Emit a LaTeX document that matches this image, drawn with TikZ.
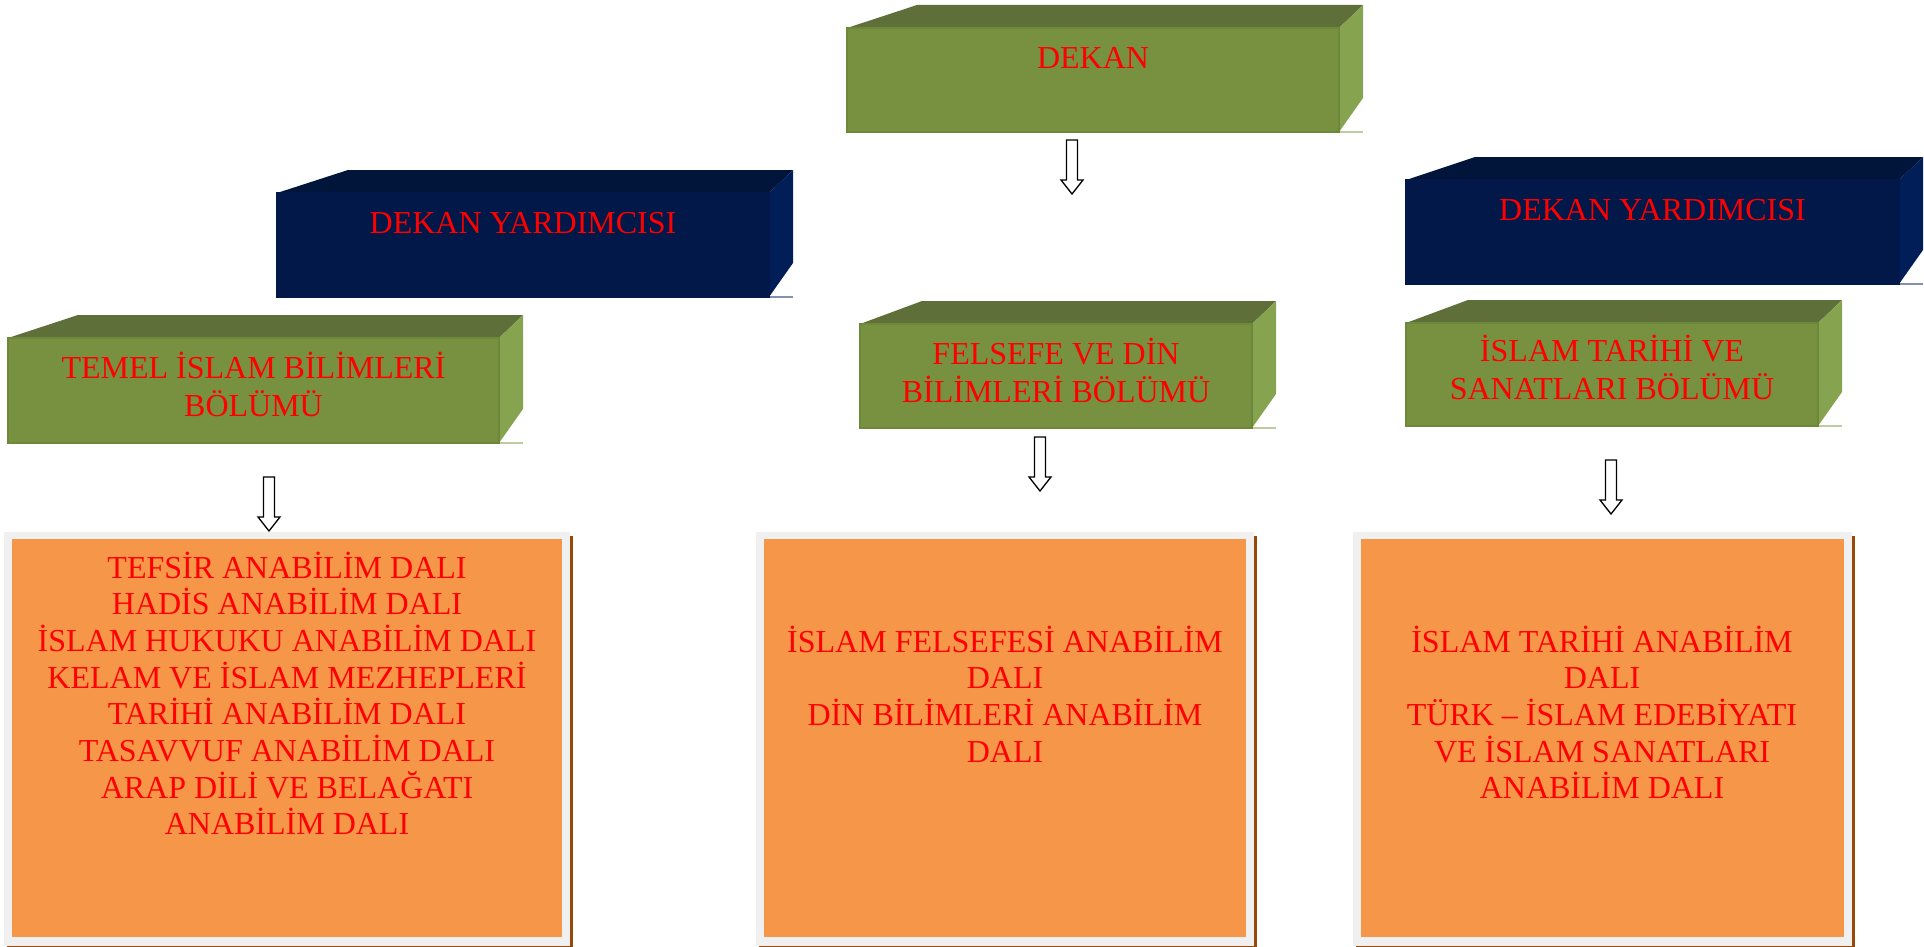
\documentclass[tikz,border=0pt]{standalone}
\usepackage{fontspec}
\setmainfont{Liberation Serif}
\usetikzlibrary{calc,fit}
\definecolor{gFront}{RGB}{119,145,64}
\definecolor{gTop}{RGB}{94,111,57}
\definecolor{gSide}{RGB}{134,164,80}
\definecolor{gEdge}{RGB}{108,136,56}
\definecolor{gLine}{RGB}{190,205,160}
\definecolor{bFront}{RGB}{2,24,72}
\definecolor{bTop}{RGB}{1,20,58}
\definecolor{bSide}{RGB}{2,30,88}
\definecolor{bEdge}{RGB}{2,24,72}
\definecolor{bLine}{RGB}{130,145,175}
\definecolor{oFill}{RGB}{246,150,72}
\definecolor{oFrame}{RGB}{240,240,240}
\definecolor{oShadow}{RGB}{152,72,7}
\definecolor{txtRed}{RGB}{255,0,0}
\newcommand\mlines[1]{\vtop{\lineskiplimit=-1000pt\relax\halign{\hfil##\hfil\cr#1\crcr}}}
\newcommand\cubebox[7]{%
  \fill[#7Top] (#2,#3) -- ({#2+#6},{#3-23}) -- ({#4+24},{#3-23}) -- (#4,#3) -- cycle;
  \fill[#7Side] (#4,#3) -- ({#4+24},{#3-23}) -- ({#4+24},{#5-34}) -- (#4,#5) -- cycle;
  \draw[#7Line, line width=1.2pt] (#4,#5) -- ({#4+24},#5);
  \node[fit={(#2,#3)(#4,#5)}, inner sep=0pt, fill=#7Front, draw=#7Edge, line width=1.2pt] (#1) {};
}
\newcommand\orangebox[5]{%
  \fill[oShadow] ({#2+3},{#3+4}) rectangle ({#4+3},{#5+3});
  \node[fit={(#2,#3)(#4,#5)}, inner sep=0pt, fill=oFrame] (#1) {};
  \fill[oFill] ({#2+7.5},{#3+7}) rectangle ({#4-8},{#5-9});
}
\tikzset{
  boxlbl/.style={text=txtRed, inner sep=0pt, anchor=base, font=\fontsize{32}{38.5}\selectfont},
  dallbl/.style={text=txtRed, inner sep=0pt, anchor=base, font=\fontsize{32}{36.7}\selectfont},
  blockarr/.style={draw=black, fill=white, line width=1.3pt, line join=miter},
}
\newcommand\blockdown[1]{%
  \draw[blockarr] (#1) ++(-5.5,0) -- ++(11,0) -- ++(0,40) -- ++(5.5,0) -- ++(-11,14) -- ++(-11,-14) -- ++(5.5,0) -- cycle;
}
\begin{document}
\begin{tikzpicture}[x=1pt,y=-1pt]
\useasboundingbox (0,0) rectangle (1924,947);
\fill[white] (0,0) rectangle (1924,947);

% 3D boxes
\cubebox{dekan}{847}{28}{1339}{132}{70}{g}
\cubebox{yrdL}{277}{193}{769}{297}{71}{b}
\cubebox{temel}{8}{338}{499}{443}{70}{g}
\cubebox{felsefe}{860}{324}{1252}{428}{62}{g}
\cubebox{yrdR}{1406}{180}{1899}{284}{69}{b}
\cubebox{tarih}{1406}{323}{1818}{426}{62}{g}

\node[boxlbl] (tDekan) at ($(dekan.north)+(0,41)$) {DEKAN};
\node[boxlbl] (tYrdL) at ($(yrdL.north)+(0,41)$) {DEKAN YARDIMCISI};
\node[boxlbl] (tYrdR) at ($(yrdR.north)+(0,41)$) {DEKAN YARDIMCISI};
\node[boxlbl] (tTemel) at ($(temel.north)+(0,41)$) {\mlines{TEMEL İSLAM BİLİMLERİ\cr BÖLÜMÜ}};
\node[boxlbl] (tFelsefe) at ($(felsefe.north)+(0,41)$) {\mlines{FELSEFE VE DİN\cr BİLİMLERİ BÖLÜMÜ}};
\node[boxlbl] (tTarih) at ($(tarih.north)+(0,39)$) {\mlines{İSLAM TARİHİ VE\cr SANATLARI BÖLÜMÜ}};

% orange boxes
\orangebox{dalL}{4}{532}{570}{946}
\orangebox{dalM}{756}{532}{1254}{946}
\orangebox{dalR}{1353}{532}{1852}{946}

\node[dallbl] (tDalL) at (287,578) {\mlines{TEFSİR ANABİLİM DALI\cr HADİS ANABİLİM DALI\cr İSLAM HUKUKU ANABİLİM DALI\cr KELAM VE İSLAM MEZHEPLERİ\cr TARİHİ ANABİLİM DALI\cr TASAVVUF ANABİLİM DALI\cr ARAP DİLİ VE BELAĞATI\cr ANABİLİM DALI}};
\node[dallbl] (tDalM) at (1005,652) {\mlines{İSLAM FELSEFESİ ANABİLİM\cr DALI\cr DİN BİLİMLERİ ANABİLİM\cr DALI}};
\node[dallbl] (tDalR) at (1602,652) {\mlines{İSLAM TARİHİ ANABİLİM\cr DALI\cr TÜRK – İSLAM EDEBİYATI\cr VE İSLAM SANATLARI\cr ANABİLİM DALI}};

% block arrows
\coordinate (a1) at (1072,140);
\coordinate (a2) at (269,477);
\coordinate (a3) at (1040,437);
\coordinate (a4) at (1611,460);
\blockdown{a1}
\blockdown{a2}
\blockdown{a3}
\blockdown{a4}
\end{tikzpicture}
\end{document}
